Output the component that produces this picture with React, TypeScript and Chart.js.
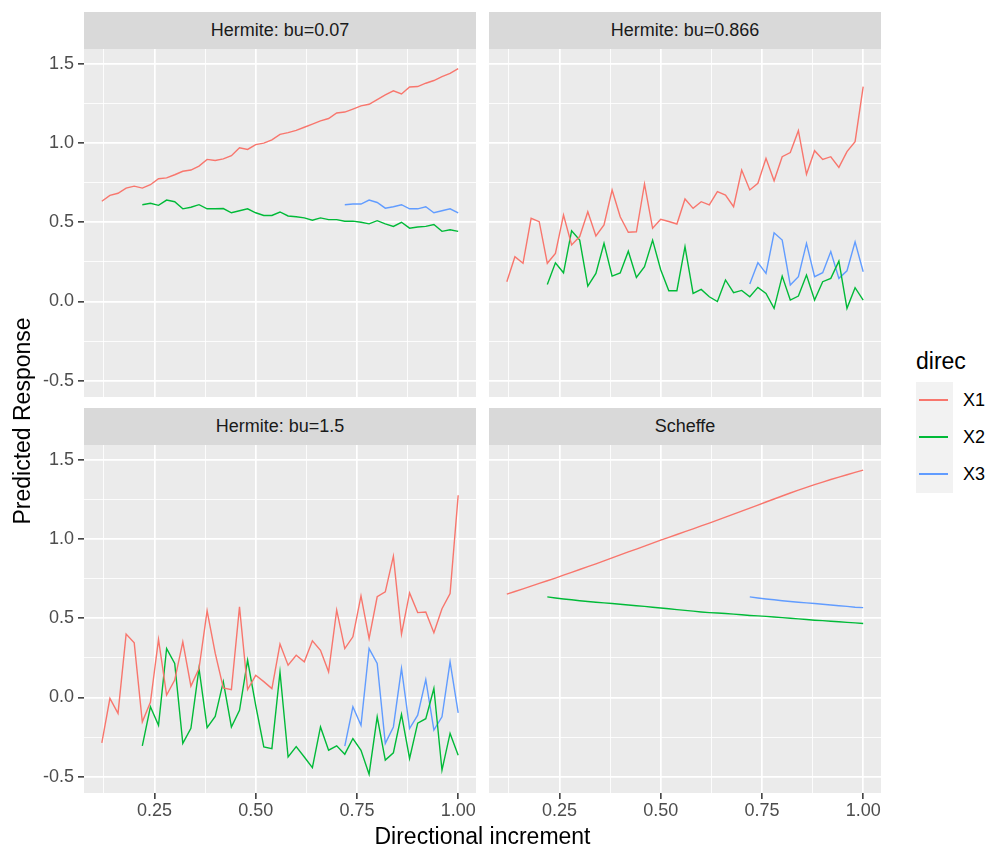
import React, { useEffect, useRef } from "react";
import { Chart, registerables } from "chart.js";

Chart.register(...registerables);

const FONT = "'Liberation Sans', Arial, Helvetica, sans-serif";

// ---------- data ----------
const X_X1 = [0.12, 0.14, 0.16, 0.18, 0.2, 0.22, 0.24, 0.26, 0.28, 0.3, 0.32, 0.34, 0.36, 0.38, 0.4, 0.42, 0.44, 0.46, 0.48, 0.5, 0.52, 0.54, 0.56, 0.58, 0.6, 0.62, 0.64, 0.66, 0.68, 0.7, 0.72, 0.74, 0.76, 0.78, 0.8, 0.82, 0.84, 0.86, 0.88, 0.9, 0.92, 0.94, 0.96, 0.98, 1.0];
const X_X2 = [0.22, 0.24, 0.26, 0.28, 0.3, 0.32, 0.34, 0.36, 0.38, 0.4, 0.42, 0.44, 0.46, 0.48, 0.5, 0.52, 0.54, 0.56, 0.58, 0.6, 0.62, 0.64, 0.66, 0.68, 0.7, 0.72, 0.74, 0.76, 0.78, 0.8, 0.82, 0.84, 0.86, 0.88, 0.9, 0.92, 0.94, 0.96, 0.98, 1.0];
const X_X3 = [0.72, 0.74, 0.76, 0.78, 0.8, 0.82, 0.84, 0.86, 0.88, 0.9, 0.92, 0.94, 0.96, 0.98, 1.0];

// Hermite: bu=0.07
const H007_X1 = [0.633, 0.67, 0.683, 0.716, 0.728, 0.716, 0.737, 0.775, 0.78, 0.8, 0.822, 0.83, 0.855, 0.897, 0.89, 0.9, 0.92, 0.97, 0.96, 0.99, 1.0, 1.02, 1.055, 1.066, 1.08, 1.1, 1.12, 1.14, 1.155, 1.19, 1.196, 1.215, 1.235, 1.245, 1.275, 1.305, 1.33, 1.31, 1.354, 1.357, 1.378, 1.395, 1.42, 1.44, 1.47];
const H007_X2 = [0.611, 0.62, 0.607, 0.64, 0.63, 0.585, 0.595, 0.611, 0.585, 0.585, 0.587, 0.56, 0.573, 0.585, 0.56, 0.543, 0.543, 0.565, 0.54, 0.535, 0.528, 0.513, 0.528, 0.517, 0.517, 0.507, 0.507, 0.5, 0.49, 0.51, 0.49, 0.474, 0.5, 0.463, 0.47, 0.474, 0.486, 0.443, 0.453, 0.443];
const H007_X3 = [0.611, 0.615, 0.615, 0.64, 0.625, 0.589, 0.598, 0.611, 0.585, 0.585, 0.598, 0.56, 0.573, 0.585, 0.56];

// Hermite: bu=0.866
const H0866_X1 = [0.125, 0.283, 0.241, 0.525, 0.504, 0.241, 0.304, 0.546, 0.357, 0.41, 0.567, 0.414, 0.483, 0.704, 0.535, 0.437, 0.44, 0.742, 0.462, 0.519, 0.505, 0.489, 0.647, 0.588, 0.63, 0.61, 0.693, 0.672, 0.598, 0.83, 0.704, 0.746, 0.904, 0.762, 0.914, 0.94, 1.078, 0.803, 0.952, 0.897, 0.914, 0.847, 0.946, 1.009, 1.356];
const H0866_X2 = [0.108, 0.244, 0.181, 0.447, 0.388, 0.097, 0.177, 0.367, 0.16, 0.18, 0.317, 0.152, 0.22, 0.387, 0.2, 0.068, 0.068, 0.346, 0.051, 0.076, 0.03, 0.0, 0.136, 0.056, 0.07, 0.03, 0.089, 0.051, -0.043, 0.16, 0.009, 0.034, 0.167, 0.009, 0.125, 0.146, 0.255, -0.043, 0.087, 0.009];
const H0866_X3 = [0.11, 0.245, 0.177, 0.434, 0.388, 0.104, 0.157, 0.367, 0.157, 0.182, 0.315, 0.146, 0.194, 0.377, 0.188];

// Hermite: bu=1.5
const H15_X1 = [-0.287, -0.006, -0.1, 0.4, 0.345, -0.154, -0.03, 0.366, 0.015, 0.11, 0.351, 0.072, 0.183, 0.547, 0.28, 0.06, 0.05, 0.572, 0.05, 0.14, 0.1, 0.056, 0.337, 0.204, 0.267, 0.225, 0.358, 0.298, 0.162, 0.551, 0.309, 0.383, 0.641, 0.372, 0.636, 0.667, 0.892, 0.4, 0.66, 0.536, 0.54, 0.409, 0.56, 0.656, 1.277];
const H15_X2 = [-0.305, -0.059, -0.175, 0.309, 0.215, -0.29, -0.195, 0.183, -0.19, -0.12, 0.1, -0.186, -0.081, 0.235, -0.05, -0.312, -0.323, 0.16, -0.376, -0.31, -0.376, -0.443, -0.186, -0.333, -0.305, -0.358, -0.259, -0.333, -0.484, -0.122, -0.395, -0.349, -0.106, -0.385, -0.162, -0.134, 0.057, -0.458, -0.227, -0.364];
const H15_X3 = [-0.307, -0.059, -0.175, 0.309, 0.215, -0.29, -0.186, 0.183, -0.196, -0.112, 0.113, -0.206, -0.122, 0.225, -0.097];

// Scheffe
const SCH_X1 = [0.652, 0.669, 0.686, 0.703, 0.72, 0.737, 0.754, 0.772, 0.79, 0.808, 0.826, 0.844, 0.862, 0.881, 0.9, 0.919, 0.937, 0.956, 0.975, 0.993, 1.011, 1.029, 1.047, 1.065, 1.083, 1.101, 1.12, 1.139, 1.158, 1.177, 1.196, 1.215, 1.234, 1.253, 1.272, 1.291, 1.309, 1.327, 1.344, 1.36, 1.376, 1.391, 1.406, 1.421, 1.435];
const SCH_X2 = [0.635, 0.628, 0.622, 0.617, 0.611, 0.606, 0.601, 0.597, 0.593, 0.589, 0.584, 0.579, 0.575, 0.57, 0.565, 0.56, 0.555, 0.55, 0.545, 0.54, 0.536, 0.533, 0.53, 0.526, 0.522, 0.518, 0.515, 0.512, 0.508, 0.504, 0.5, 0.496, 0.492, 0.488, 0.485, 0.481, 0.478, 0.474, 0.471, 0.467];
const SCH_X3 = [0.635, 0.628, 0.622, 0.617, 0.611, 0.606, 0.601, 0.597, 0.593, 0.589, 0.584, 0.579, 0.575, 0.57, 0.567];

const SERIES_NAMES = ["X1", "X2", "X3"];
const SERIES_COLORS = ["#F8766D", "#00BA38", "#619CFF"];
const PANEL_TITLES = ["Hermite: bu=0.07", "Hermite: bu=0.866", "Hermite: bu=1.5", "Scheffe"];

const X_TICKS = [0.125, 0.25, 0.375, 0.5, 0.625, 0.75, 0.875, 1.0];
const Y_TICKS = [-0.5, -0.25, 0, 0.25, 0.5, 0.75, 1.0, 1.25, 1.5];
const X_RANGE = [0.076, 1.044];
const Y_RANGE = [-0.603, 1.594];

// ---------- layout ----------
const PW = 392; // panel width
const PH = 348; // panel height
const STRIP_H = 37;
const COL_LEFT = [84, 489];
const ROW_TOP = [49, 445];

const PANEL_DATA = [
  [H007_X1, H007_X2, H007_X3],
  [H0866_X1, H0866_X2, H0866_X3],
  [H15_X1, H15_X2, H15_X3],
  [SCH_X1, SCH_X2, SCH_X3],
];
const XS = [X_X1, X_X2, X_X3];

const isMajorX = (v: number) => Math.abs(v * 4 - Math.round(v * 4)) < 1e-6;
const isMajorY = (v: number) => Math.abs(v * 2 - Math.round(v * 2)) < 1e-6;

const panelBg = {
  id: "panelBg",
  beforeDraw(chart: any) {
    const { ctx, chartArea: a } = chart;
    ctx.save();
    ctx.fillStyle = "#EBEBEB";
    ctx.fillRect(a.left, a.top, a.right - a.left, a.bottom - a.top);
    ctx.restore();
  },
};

const ML = 80, MR = 25, MT = 15, MB = 45;

function Panel({ idx }: { idx: number }) {
  const ref = useRef<HTMLCanvasElement>(null);
  const col = idx % 2;
  const row = Math.floor(idx / 2);
  const showX = row === 1;
  const showY = col === 0;
  useEffect(() => {
    const series = PANEL_DATA[idx];
    const chart = new Chart(ref.current as HTMLCanvasElement, {
      type: "line",
      data: {
        datasets: series.map((ys, s) => ({
          label: SERIES_NAMES[s],
          data: XS[s].map((x, i) => ({ x, y: ys[i] })),
          borderColor: SERIES_COLORS[s],
          borderWidth: 1.4,
          pointRadius: 0,
          tension: 0,
          fill: false,
        })),
      },
      options: {
        responsive: false,
        animation: false,
        devicePixelRatio: 1,
        layout: { padding: { left: 0, right: MR, top: MT, bottom: 0 } },
        plugins: { legend: { display: false }, tooltip: { enabled: false }, title: { display: false } },
        scales: {
          x: {
            type: "linear",
            min: X_RANGE[0],
            max: X_RANGE[1],
            afterBuildTicks: (s: any) => {
              s.ticks = X_TICKS.map((v) => ({ value: v }));
            },
            afterFit: (s: any) => {
              s.height = MB;
            },
            ticks: {
              display: showX,
              autoSkip: false,
              maxRotation: 0,
              minRotation: 0,
              padding: 1,
              color: "#4D4D4D",
              font: { family: FONT, size: 18 },
              callback: (v: any) => (isMajorX(Number(v)) ? Number(v).toFixed(2) : ""),
            },
            grid: {
              color: "#FFFFFF",
              lineWidth: (c: any) => (c.tick && isMajorX(c.tick.value) ? 1.7 : 0.85),
              drawTicks: showX,
              tickLength: 6,
              tickWidth: 1.5,
              tickColor: (c: any) => (c.tick && isMajorX(c.tick.value) ? "#333333" : "rgba(0,0,0,0)"),
            },
            border: { display: false },
          },
          y: {
            type: "linear",
            min: Y_RANGE[0],
            max: Y_RANGE[1],
            afterBuildTicks: (s: any) => {
              s.ticks = Y_TICKS.map((v) => ({ value: v }));
            },
            afterFit: (s: any) => {
              s.width = ML;
            },
            ticks: {
              display: showY,
              autoSkip: false,
              padding: 4,
              color: "#4D4D4D",
              font: { family: FONT, size: 18 },
              callback: (v: any) => (isMajorY(Number(v)) ? Number(v).toFixed(1) : ""),
            },
            grid: {
              color: "#FFFFFF",
              lineWidth: (c: any) => (c.tick && isMajorY(c.tick.value) ? 1.7 : 0.85),
              drawTicks: showY,
              tickLength: 6,
              tickWidth: 1.5,
              tickColor: (c: any) => (c.tick && isMajorY(c.tick.value) ? "#333333" : "rgba(0,0,0,0)"),
            },
            border: { display: false },
          },
        },
      },
      plugins: [panelBg],
    });
    return () => chart.destroy();
  }, [idx]);

  const left = COL_LEFT[col];
  const top = ROW_TOP[row];
  return (
    <>
      <div
        style={{
          position: "absolute",
          left,
          top: top - STRIP_H,
          width: PW,
          height: STRIP_H,
          background: "#D9D9D9",
          color: "#1A1A1A",
          font: `18px ${FONT}`,
          display: "flex",
          alignItems: "center",
          justifyContent: "center",
        }}
      >
        {PANEL_TITLES[idx]}
      </div>
      <canvas
        ref={ref}
        width={PW + ML + MR}
        height={PH + MT + MB}
        style={{ position: "absolute", left: left - ML, top: top - MT, width: PW + ML + MR, height: PH + MT + MB }}
      />
    </>
  );
}

export default function App() {
  return (
    <div style={{ position: "absolute", left: 0, top: 0, width: 990, height: 849, background: "#FFFFFF", overflow: "hidden", fontFamily: FONT }}>
      {[0, 1, 2, 3].map((i) => (
        <Panel key={i} idx={i} />
      ))}
      <div
        style={{
          position: "absolute",
          left: 84,
          width: 797,
          top: 823,
          textAlign: "center",
          fontSize: 23,
          color: "#000000",
          lineHeight: "26px",
        }}
      >
        Directional increment
      </div>
      <div
        style={{
          position: "absolute",
          left: 22 - 200,
          top: 421 - 13,
          width: 400,
          height: 26,
          lineHeight: "26px",
          textAlign: "center",
          fontSize: 23,
          color: "#000000",
          transform: "rotate(-90deg)",
        }}
      >
        Predicted Response
      </div>
      {/* legend */}
      <div style={{ position: "absolute", left: 916, top: 348, fontSize: 23, lineHeight: "26px", color: "#000000" }}>direc</div>
      <div style={{ position: "absolute", left: 916, top: 382, width: 37, height: 111, background: "#F2F2F2" }} />
      {SERIES_NAMES.map((name, i) => (
        <React.Fragment key={name}>
          <div
            style={{
              position: "absolute",
              left: 919,
              top: 400 + i * 37 - 0.7,
              width: 29,
              height: 1.4,
              background: SERIES_COLORS[i],
            }}
          />
          <div
            style={{
              position: "absolute",
              left: 963,
              top: 400 + i * 37 - 11,
              height: 22,
              lineHeight: "22px",
              fontSize: 18,
              color: "#000000",
            }}
          >
            {name}
          </div>
        </React.Fragment>
      ))}
    </div>
  );
}
